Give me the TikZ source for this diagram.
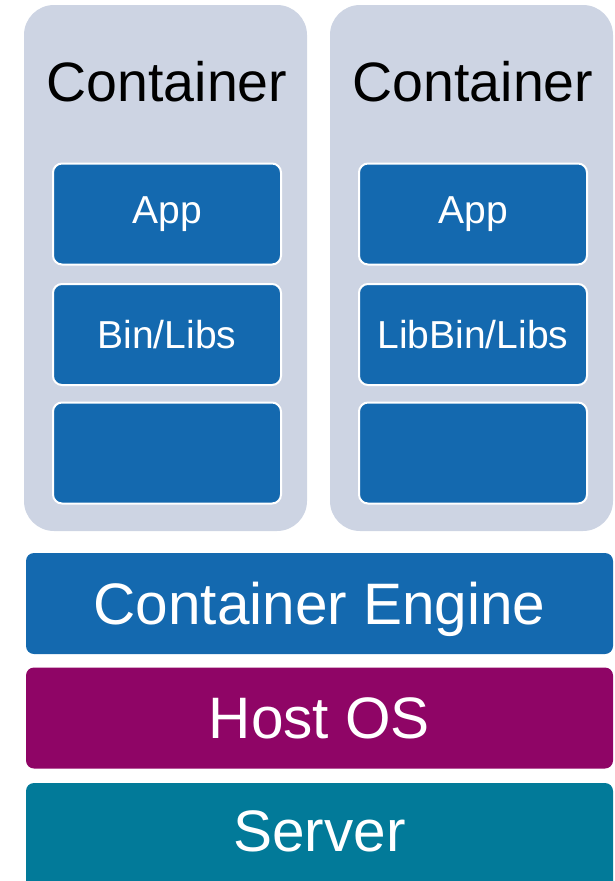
\documentclass[tikz,border=0pt]{standalone}
\usepackage{fontspec}
\setmainfont{Liberation Sans}
\definecolor{ctrgrey}{HTML}{CDD4E3}
\definecolor{layerblue}{HTML}{1469AF}
\definecolor{hostpurple}{HTML}{8F0566}
\definecolor{serverteal}{HTML}{027A99}
\begin{document}
\begin{tikzpicture}[x=1pt, y=-1pt,
  ctrbox/.style={fill=ctrgrey, rounded corners=30pt, minimum width=283pt, minimum height=526pt, inner sep=0pt},
  ctrtitle/.style={font=\fontsize{55.5}{60}\selectfont, inner sep=0pt},
  part/.style={fill=layerblue, draw=white, line width=2pt, rounded corners=9pt, minimum width=228pt, minimum height=101pt, inner sep=0pt, text=white, font=\fontsize{39}{44}\selectfont},
  layer/.style={rounded corners=8pt, minimum width=587pt, minimum height=101pt, inner sep=0pt, text depth=0pt, text=white, font=\fontsize{58.5}{64}\selectfont}]
\useasboundingbox (0,0) rectangle (614,881);
\clip (0,0) rectangle (614,881);
\foreach \cx/\lib/\n in {165.5/{Bin/Libs}/1, 471.5/{LibBin/Libs}/2}
{
    \node[ctrbox] (ctr\n) at (\cx,268) {};
    \node[ctrtitle] (title\n) at (\cx+1.5,82) {Container};
    \node[part] (app\n) at (\cx+1.5,214) {App};
    \node[part] (libs\n) at (\cx+1.5,334.5) {\lib};
    \node[part] (empty\n) at (\cx+1.5,453) {};
}
\node[layer, fill=layerblue] (engine) at (319.5,603.5) {Container Engine};
\node[layer, fill=hostpurple] (hostos) at (319.5,718) {Host OS};
\node[layer, fill=serverteal, minimum height=131pt, text depth=34pt] (server) at (319.5,848.5) {Server};
\end{tikzpicture}
\end{document}
